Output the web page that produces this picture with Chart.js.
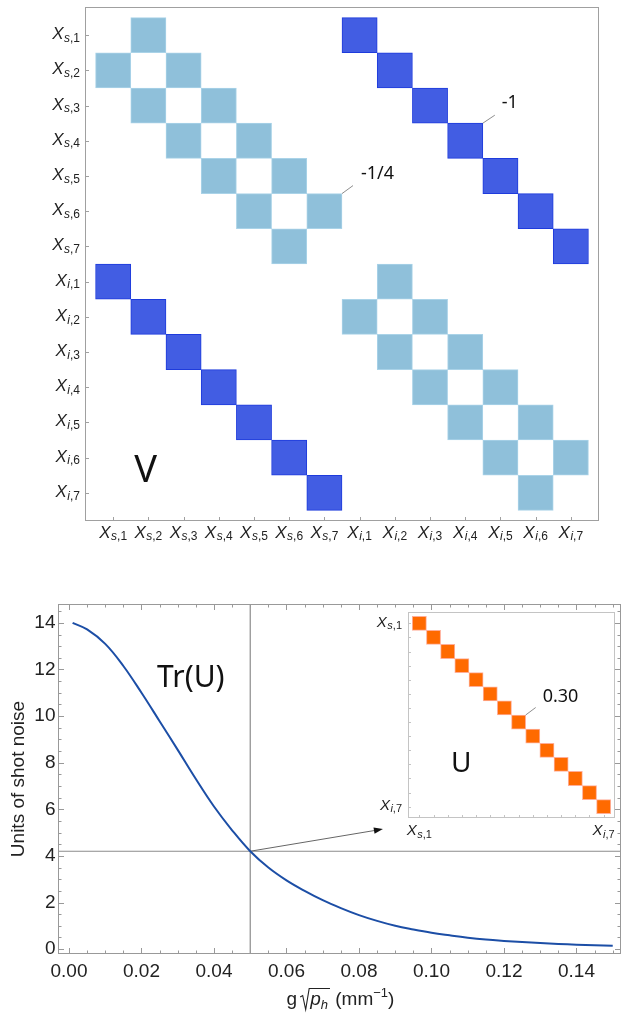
<!DOCTYPE html>
<html>
<head>
<meta charset="utf-8">
<script src="https://cdn.jsdelivr.net/npm/chart.js@4.4.0/dist/chart.umd.min.js"></script>
<style>
  body { margin: 0; background: #fff; }
  #wrap { position: relative; width: 622px; height: 1015px; }
  canvas { position: absolute; }
</style>
</head>
<body>
<div id="wrap">
  <canvas id="matrixV" width="622" height="560" style="left:0;top:0"></canvas>
  <canvas id="traceChart" width="622" height="455" style="left:0;top:560px"></canvas>
  <canvas id="matrixU" width="262" height="250" style="left:360px;top:596px"></canvas>
</div>
<script>
// quadrature labels X_{var,num}
const modeVars = ['s','s','s','s','s','s','s','i','i','i','i','i','i','i'];
const modeNums = ['1','2','3','4','5','6','7','1','2','3','4','5','6','7'];

// V matrix, nonzero entries as [row, col]
const vQuarterCells = [
  [0,1],[1,0],[1,2],[2,1],[2,3],[3,2],[3,4],[4,3],[4,5],[5,4],[5,6],[6,5],
  [7,8],[8,7],[8,9],[9,8],[9,10],[10,9],[10,11],[11,10],[11,12],[12,11],[12,13],[13,12]
];
const vQuarterValue = '-1/4';
const vQuarterNoteCell = [5, 6];
const vOneCells = [
  [0,7],[1,8],[2,9],[3,10],[4,11],[5,12],[6,13],
  [7,0],[8,1],[9,2],[10,3],[11,4],[12,5],[13,6]
];
const vOneValue = '-1';
const vOneNoteCell = [3, 10];

// U matrix (inset)
const uDiagCells = [[0,0],[1,1],[2,2],[3,3],[4,4],[5,5],[6,6],[7,7],[8,8],[9,9],[10,10],[11,11],[12,12],[13,13]];
const uDiagValue = '0.30';
const uNoteCell = [7, 7];

// Tr(U) vs g*sqrt(p_h)
const gSqrtPh = [0.001, 0.005, 0.010, 0.015, 0.020, 0.025, 0.030, 0.035, 0.040, 0.045, 0.050,
                 0.055, 0.060, 0.065, 0.070, 0.075, 0.080, 0.085, 0.090, 0.095, 0.100,
                 0.105, 0.110, 0.115, 0.120, 0.125, 0.130, 0.135, 0.140, 0.145, 0.150];
const traceU = [14.0, 13.72, 13.1, 12.15, 11.0, 9.78, 8.55, 7.3, 6.12, 5.1, 4.2,
                3.5, 2.95, 2.5, 2.1, 1.76, 1.46, 1.21, 1.0, 0.84, 0.7,
                0.59, 0.49, 0.41, 0.35, 0.3, 0.26, 0.22, 0.19, 0.165, 0.145];
const xTicks = [0, 0.02, 0.04, 0.06, 0.08, 0.10, 0.12, 0.14];
const yTicks = [0, 2, 4, 6, 8, 10, 12, 14];
const markerX = 0.05;
const markerY = 4.2;
const arrowTip = [0.0866, 5.15];

const SANS = '"Liberation Sans", Arial, sans-serif';
const NOTE = '"Noto Sans", "Open Sans", sans-serif';

function toBars(cells) {
  return cells.map(([r, c]) => ({ x: c, y: [r - 0.5, r + 0.5] }));
}
function integerTicks(count) {
  return scale => {
    scale.ticks = [];
    for (let i = 0; i < count; i++) scale.ticks.push({ value: i });
  };
}

// italic X with subscript "v,n"
function drawModeLabel(ctx, v, n, x, y, align, size, drop) {
  const sub = Math.round(size * 0.7);
  ctx.font = `italic ${size}px ${SANS}`;
  const wX = ctx.measureText('X').width;
  ctx.font = `italic ${sub}px ${SANS}`;
  const wV = ctx.measureText(v).width;
  ctx.font = `${sub}px ${SANS}`;
  const wN = ctx.measureText(',' + n).width;
  const total = wX + wV + wN + 0.5;
  let x0 = align === 'right' ? x - total : x - total / 2;
  ctx.textAlign = 'left';
  ctx.textBaseline = 'alphabetic';
  ctx.fillStyle = '#222';
  ctx.font = `italic ${size}px ${SANS}`;
  ctx.fillText('X', x0, y);
  x0 += wX + 0.5;
  ctx.font = `italic ${sub}px ${SANS}`;
  ctx.fillText(v, x0, y + drop);
  x0 += wV;
  ctx.font = `${sub}px ${SANS}`;
  ctx.fillText(',' + n, x0, y + drop);
}

function drawNote(ctx, text, cx, cy, lx, ly, tx, ty, font) {
  ctx.strokeStyle = '#707070';
  ctx.lineWidth = 0.8;
  ctx.beginPath();
  ctx.moveTo(cx, cy);
  ctx.lineTo(cx + lx, cy + ly);
  ctx.stroke();
  ctx.fillStyle = '#111';
  ctx.font = font;
  ctx.textAlign = 'left';
  ctx.textBaseline = 'alphabetic';
  ctx.fillText(text, cx + tx, cy + ty);
}

const barDefaults = { grouped: false, barPercentage: 1, categoryPercentage: 1, borderWidth: 1, borderSkipped: false };

// ---------- V matrix ----------
const vMatrixDecor = {
  id: 'vMatrixDecor',
  afterDraw(chart) {
    const { ctx, chartArea: a, scales: { x, y } } = chart;
    ctx.save();
    ctx.strokeStyle = '#a0a0a0';
    ctx.lineWidth = 1;
    ctx.strokeRect(a.left + 0.5, a.top + 0.5, a.width - 1, a.height - 1);
    ctx.beginPath();
    for (let i = 0; i < modeNums.length; i++) {
      const px = Math.round(x.getPixelForValue(i)) + 0.5;
      const py = Math.round(y.getPixelForValue(i)) + 0.5;
      ctx.moveTo(px, a.bottom); ctx.lineTo(px, a.bottom - 4);
      ctx.moveTo(a.left, py); ctx.lineTo(a.left + 4, py);
    }
    ctx.stroke();
    for (let i = 0; i < modeNums.length; i++) {
      drawModeLabel(ctx, modeVars[i], modeNums[i], a.left - 5, y.getPixelForValue(i) + 4, 'right', 17, 2.7);
      drawModeLabel(ctx, modeVars[i], modeNums[i], x.getPixelForValue(i), a.bottom + 16.5, 'center', 17, 2.7);
    }
    const noteFont = `18px ${NOTE}`;
    drawNote(ctx, vQuarterValue, x.getPixelForValue(vQuarterNoteCell[1] + 0.5), y.getPixelForValue(vQuarterNoteCell[0] - 0.5), 11, -8, 19, -15, noteFont);
    drawNote(ctx, vOneValue, x.getPixelForValue(vOneNoteCell[1] + 0.5), y.getPixelForValue(vOneNoteCell[0] - 0.5), 12, -8, 19, -15, noteFont);
    ctx.fillStyle = '#111';
    ctx.font = `38px ${NOTE}`;
    ctx.textAlign = 'center';
    ctx.fillText('V', x.getPixelForValue(0.92), y.getPixelForValue(12.69));
    ctx.restore();
  }
};

new Chart(document.getElementById('matrixV'), {
  type: 'bar',
  data: {
    datasets: [
      { label: vQuarterValue, data: toBars(vQuarterCells), backgroundColor: '#8fc0da', borderColor: '#aad3e8' },
      { label: vOneValue, data: toBars(vOneCells), backgroundColor: '#425de3', borderColor: '#1e3bdc' }
    ]
  },
  options: {
    responsive: false,
    animation: false,
    layout: { padding: { left: 85, top: 7, right: 23, bottom: 39 } },
    datasets: { bar: barDefaults },
    plugins: { legend: { display: false }, tooltip: { enabled: false } },
    scales: {
      x: { type: 'linear', display: false, offset: false, min: -0.8, max: 13.8, afterBuildTicks: integerTicks(14) },
      y: { type: 'linear', display: false, offset: false, reverse: true, min: -0.8, max: 13.8, afterBuildTicks: integerTicks(14) }
    }
  },
  plugins: [vMatrixDecor]
});

// ---------- Tr(U) curve ----------
const traceDecor = {
  id: 'traceDecor',
  beforeDatasetsDraw(chart) {
    const { ctx, chartArea: a, scales: { x, y } } = chart;
    ctx.save();
    ctx.strokeStyle = '#8c8c8c';
    ctx.lineWidth = 1.2;
    const mx = x.getPixelForValue(markerX);
    const my = y.getPixelForValue(markerY);
    ctx.beginPath();
    ctx.moveTo(mx, a.top); ctx.lineTo(mx, a.bottom);
    ctx.moveTo(a.left, my); ctx.lineTo(a.right, my);
    ctx.stroke();
    // arrow to inset
    const tx = x.getPixelForValue(arrowTip[0]);
    const ty = y.getPixelForValue(arrowTip[1]);
    const ang = Math.atan2(ty - my, tx - mx);
    ctx.strokeStyle = '#666';
    ctx.lineWidth = 1;
    ctx.beginPath();
    ctx.moveTo(mx, my);
    ctx.lineTo(tx - 7 * Math.cos(ang), ty - 7 * Math.sin(ang));
    ctx.stroke();
    ctx.fillStyle = '#111';
    ctx.beginPath();
    ctx.moveTo(tx, ty);
    ctx.lineTo(tx - 9 * Math.cos(ang) + 3.2 * Math.sin(ang), ty - 9 * Math.sin(ang) - 3.2 * Math.cos(ang));
    ctx.lineTo(tx - 9 * Math.cos(ang) - 3.2 * Math.sin(ang), ty - 9 * Math.sin(ang) + 3.2 * Math.cos(ang));
    ctx.closePath();
    ctx.fill();
    ctx.restore();
  },
  afterDraw(chart) {
    const { ctx, chartArea: a, scales: { x, y } } = chart;
    ctx.save();
    ctx.strokeStyle = '#999';
    ctx.lineWidth = 1;
    ctx.strokeRect(a.left + 0.5, a.top + 0.5, a.width - 1, a.height - 1);
    ctx.beginPath();
    for (let k = 0; k <= 30; k++) {
      const v = k * 0.005;
      const len = k % 4 === 0 ? 6 : 3.5;
      const px = Math.round(x.getPixelForValue(v)) + 0.5;
      ctx.moveTo(px, a.bottom); ctx.lineTo(px, a.bottom - len);
      ctx.moveTo(px, a.top); ctx.lineTo(px, a.top + len);
    }
    for (let k = 0; k <= 29; k++) {
      const v = k * 0.5;
      const len = k % 4 === 0 ? 6 : 3.5;
      const py = Math.round(y.getPixelForValue(v)) + 0.5;
      ctx.moveTo(a.left, py); ctx.lineTo(a.left + len, py);
      ctx.moveTo(a.right, py); ctx.lineTo(a.right - len, py);
    }
    ctx.stroke();

    ctx.fillStyle = '#111';
    ctx.font = `30px ${NOTE}`;
    ctx.textAlign = 'left';
    ctx.textBaseline = 'alphabetic';
    ctx.fillText('Tr(U)', x.getPixelForValue(0.0243), y.getPixelForValue(11.25));

    // x-axis title: g sqrt(p_h) (mm^-1)
    const base = 445;
    const big = `19px ${SANS}`, bigIt = `italic 19px ${SANS}`, small = `13px ${SANS}`, smallIt = `italic 13px ${SANS}`;
    ctx.font = big; const wg = ctx.measureText('g').width;
    ctx.font = bigIt; const wp = ctx.measureText('p').width;
    ctx.font = smallIt; const wh = ctx.measureText('h').width;
    ctx.font = big; const wmm = ctx.measureText(' (mm').width;
    ctx.font = small; const wm1 = ctx.measureText('\u22121').width;
    ctx.font = big; const wpar = ctx.measureText(')').width;
    const radW = 10;
    const total = wg + 3 + radW + wp + wh + 2 + wmm + wm1 + wpar;
    let cx = (a.left + a.right) / 2 - total / 2 + 1;
    ctx.fillStyle = '#222';
    ctx.font = big; ctx.fillText('g', cx, base); cx += wg + 3;
    ctx.strokeStyle = '#222';
    ctx.lineWidth = 1.1;
    ctx.beginPath();
    ctx.moveTo(cx, base - 8);
    ctx.lineTo(cx + 2.5, base - 9.5);
    ctx.lineTo(cx + 5.5, base + 4.5);
    ctx.lineTo(cx + 9, base - 16.5);
    ctx.lineTo(cx + radW + wp + wh + 2, base - 16.5);
    ctx.stroke();
    cx += radW;
    ctx.font = bigIt; ctx.fillText('p', cx, base); cx += wp;
    ctx.font = smallIt; ctx.fillText('h', cx, base + 4); cx += wh + 2;
    ctx.font = big; ctx.fillText(' (mm', cx, base); cx += wmm;
    ctx.font = small; ctx.fillText('\u22121', cx, base - 8); cx += wm1;
    ctx.font = big; ctx.fillText(')', cx, base);
    ctx.restore();
  }
};

new Chart(document.getElementById('traceChart'), {
  type: 'line',
  data: {
    datasets: [{
      data: gSqrtPh.map((g, i) => ({ x: g, y: traceU[i] })),
      borderColor: '#1c4ea6',
      borderWidth: 2,
      pointRadius: 0,
      tension: 0.4,
      fill: false
    }]
  },
  options: {
    responsive: false,
    animation: false,
    layout: { padding: { left: 0, top: 44, right: 1, bottom: 0 } },
    plugins: { legend: { display: false }, tooltip: { enabled: false } },
    scales: {
      x: {
        type: 'linear', min: -0.00303, max: 0.15228,
        afterBuildTicks: s => { s.ticks = xTicks.map(v => ({ value: v })); },
        afterFit: s => { s.height = 61; },
        grid: { display: false, drawTicks: false },
        border: { display: false },
        ticks: { padding: 6, color: '#222', font: { family: SANS, size: 19 }, maxRotation: 0, autoSkip: false,
                 callback: v => v.toFixed(2) }
      },
      y: {
        type: 'linear', min: -0.21, max: 14.81,
        afterBuildTicks: s => { s.ticks = yTicks.map(v => ({ value: v })); },
        afterFit: s => { s.width = 58; },
        grid: { display: false, drawTicks: false },
        border: { display: false },
        title: { display: true, text: 'Units of shot noise', color: '#222', font: { family: SANS, size: 19 }, padding: { top: 7, bottom: 0 } },
        ticks: { padding: 2.5, color: '#222', font: { family: SANS, size: 19 }, autoSkip: false, callback: v => String(v) }
      }
    }
  },
  plugins: [traceDecor]
});

// ---------- U matrix inset ----------
const uMatrixDecor = {
  id: 'uMatrixDecor',
  afterDraw(chart) {
    const { ctx, chartArea: a, scales: { x, y } } = chart;
    ctx.save();
    ctx.strokeStyle = '#c4c4c4';
    ctx.lineWidth = 1;
    ctx.strokeRect(a.left + 0.5, a.top + 0.5, a.width - 1, a.height - 1);
    ctx.beginPath();
    for (let i = 0; i < modeNums.length; i++) {
      const px = Math.round(x.getPixelForValue(i)) + 0.5;
      const py = Math.round(y.getPixelForValue(i)) + 0.5;
      ctx.moveTo(px, a.bottom); ctx.lineTo(px, a.bottom - 3);
      ctx.moveTo(a.left, py); ctx.lineTo(a.left + 3, py);
    }
    ctx.stroke();
    const last = modeNums.length - 1;
    drawModeLabel(ctx, modeVars[0], modeNums[0], a.left - 6, y.getPixelForValue(0) + 3.7, 'right', 15, 2);
    drawModeLabel(ctx, modeVars[last], modeNums[last], a.left - 6, y.getPixelForValue(last) + 3.7, 'right', 15, 2);
    drawModeLabel(ctx, modeVars[0], modeNums[0], x.getPixelForValue(0), a.bottom + 17, 'center', 15, 2.5);
    drawModeLabel(ctx, modeVars[last], modeNums[last], x.getPixelForValue(last), a.bottom + 17, 'center', 15, 2.5);
    drawNote(ctx, uDiagValue, x.getPixelForValue(uNoteCell[1] + 0.5), y.getPixelForValue(uNoteCell[0] - 0.5), 10, -7.5, 17, -13, `18px ${NOTE}`);
    ctx.fillStyle = '#111';
    ctx.font = `28px ${NOTE}`;
    ctx.textAlign = 'center';
    ctx.fillText('U', x.getPixelForValue(2.95), y.getPixelForValue(10.52));
    ctx.restore();
  }
};

new Chart(document.getElementById('matrixU'), {
  type: 'bar',
  data: {
    datasets: [
      { label: uDiagValue, data: toBars(uDiagCells), backgroundColor: '#ff6a00', borderColor: '#ffae98' }
    ]
  },
  options: {
    responsive: false,
    animation: false,
    layout: { padding: { left: 48, top: 16, right: 7, bottom: 28 } },
    datasets: { bar: barDefaults },
    plugins: { legend: { display: false }, tooltip: { enabled: false } },
    scales: {
      x: { type: 'linear', display: false, offset: false, min: -0.8, max: 13.8, afterBuildTicks: integerTicks(14) },
      y: { type: 'linear', display: false, offset: false, reverse: true, min: -0.8, max: 13.8, afterBuildTicks: integerTicks(14) }
    }
  },
  plugins: [uMatrixDecor]
});
</script>
</body>
</html>
